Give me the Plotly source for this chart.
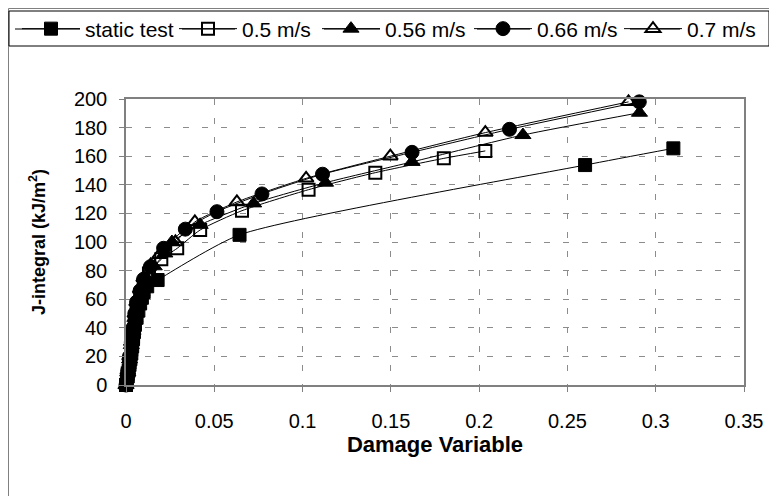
import plotly.graph_objects as go

# ---- data ----
static_x = [0, 0.0005, 0.001, 0.0015, 0.002, 0.0025, 0.003, 0.0035, 0.004, 0.0045, 0.005, 0.006, 0.007, 0.008, 0.009, 0.010, 0.012, 0.0179, 0.0643, 0.26, 0.31]
static_y = [0, 3, 6, 10, 14, 18, 22, 27, 32, 37, 42, 47, 52, 57, 61, 65, 69, 73.4, 105, 153.8, 165.5]

v05_x = [0, 0.001, 0.002, 0.003, 0.004, 0.005, 0.006, 0.008, 0.010, 0.013, 0.020, 0.029, 0.042, 0.0657, 0.1034, 0.1412, 0.180, 0.2035]
v05_y = [0, 8, 16, 25, 34, 43, 52, 62, 70, 78, 88, 95.6, 108.4, 121.9, 136.6, 148.5, 158.5, 163.7]

v056_x = [0, 0.001, 0.002, 0.003, 0.004, 0.005, 0.007, 0.009, 0.012, 0.016, 0.022, 0.026, 0.042, 0.0723, 0.113, 0.162, 0.2248, 0.2908]
v056_y = [0, 9, 18, 28, 38, 47, 56, 65, 74, 83, 92, 100, 112, 127, 141.5, 156, 174.8, 190.4]

v066_x = [0, 0.001, 0.002, 0.003, 0.004, 0.005, 0.006, 0.008, 0.010, 0.0138, 0.0213, 0.0336, 0.0515, 0.077, 0.1113, 0.162, 0.2172, 0.2907]
v066_y = [0, 10, 20, 30, 40, 50, 58, 66, 74, 82.7, 95.6, 109, 121.2, 133.6, 147.4, 162.7, 178.8, 198]

v07_x = [0, 0.001, 0.002, 0.003, 0.004, 0.005, 0.006, 0.008, 0.010, 0.014, 0.019, 0.028, 0.039, 0.0628, 0.102, 0.1497, 0.2035, 0.2846]
v07_y = [0, 10, 20, 30, 40, 50, 58, 67, 75, 84, 91, 100, 114, 128, 144.5, 160, 176.5, 198]

series_names = ["static test", "0.5 m/s", "0.56 m/s", "0.66 m/s", "0.7 m/s"]
x_ticks = [0, 0.05, 0.1, 0.15, 0.2, 0.25, 0.3, 0.35]
y_ticks = [0, 20, 40, 60, 80, 100, 120, 140, 160, 180, 200]

FONT = "Liberation Sans, Arial, sans-serif"
GRID = "#8c8c8c"

styles = [
    dict(symbol="square", size=13, color="black", line=dict(color="black", width=1)),
    dict(symbol="square-open", size=12, color="black", line=dict(color="black", width=2)),
    dict(symbol="triangle-up", size=14, color="black", line=dict(color="black", width=1)),
    dict(symbol="circle", size=14, color="black", line=dict(color="black", width=1)),
    dict(symbol="triangle-up-open", size=13, color="black", line=dict(color="black", width=2)),
]

data = [(static_x, static_y), (v05_x, v05_y), (v056_x, v056_y), (v066_x, v066_y), (v07_x, v07_y)]
legend_ids = ["legend", "legend2", "legend3", "legend4", "legend5"]

# page is offset by the default 8px body margin -> figure coords = screen - 8
OFF = 8
W, H = 777 - OFF, 496 - OFF
L, T = 126 - OFF, 99 - OFF
R = W - (744 - OFF)
B = H - (385 - OFF)
pw, ph = W - L - R, H - T - B

def px_x(p):
    return (p - OFF - L) / pw

def px_y(p):
    return (H - B - (p - OFF)) / ph

fig = go.Figure()
for (xs, ys), name, st, lid in zip(data, series_names, styles, legend_ids):
    fig.add_trace(go.Scatter(
        x=xs, y=ys, name=name, mode="lines+markers", legend=lid, cliponaxis=False,
        line=dict(color="black", width=1, shape="spline", smoothing=0.6),
        marker=st,
    ))

# legend layout in the reference (screen px)
leg_text_px = [85, 242, 385, 537, 687]
leg_line_px = [(15, 80), (182, 235), (324, 380), (477, 530), (630, 680)]
LEG_Y = 29
ITEMW = 58

shapes = [
    dict(type="rect", xref="paper", yref="paper",
         x0=px_x(OFF + 0.5), x1=px_x(772), y0=px_y(500), y1=px_y(OFF + 0.5),
         line=dict(color="#808080", width=1), fillcolor="rgba(0,0,0,0)", layer="below"),
    dict(type="rect", xref="paper", yref="paper",
         x0=px_x(OFF + 1), x1=px_x(769), y0=px_y(46), y1=px_y(11),
         line=dict(color="black", width=1), fillcolor="rgba(0,0,0,0)"),
]
for a, b in leg_line_px:
    shapes.append(dict(type="line", xref="paper", yref="paper",
                       x0=px_x(a), x1=px_x(b), y0=px_y(LEG_Y), y1=px_y(LEG_Y),
                       line=dict(color="black", width=1)))

layout_legends = {}
for lid, tx in zip(legend_ids, leg_text_px):
    layout_legends[lid] = dict(
        orientation="h", x=px_x(tx - ITEMW - 10), xanchor="left", y=px_y(LEG_Y), yanchor="middle",
        bgcolor="rgba(0,0,0,0)", borderwidth=0, font=dict(size=21, family=FONT, color="black"),
        itemwidth=ITEMW,
    )

fig.update_layout(
    width=W, height=H,
    margin=dict(l=L, r=R, t=T, b=B, autoexpand=False),
    paper_bgcolor="white", plot_bgcolor="white",
    font=dict(family=FONT, size=20, color="black"),
    showlegend=True,
    shapes=shapes,
    xaxis=dict(range=[0, 0.35], tickvals=x_ticks, ticktext=[f"{v:g}" for v in x_ticks],
               showline=True, linecolor="#808080", linewidth=1.5, mirror=True,
               ticks="outside", ticklen=5, tickcolor="#808080",
               showgrid=True, gridcolor=GRID, griddash="6px,13px", gridwidth=1,
               zeroline=False, ticklabelstandoff=12,
               title=dict(text="<b>Damage Variable</b>", standoff=3, font=dict(size=22))),
    yaxis=dict(range=[0, 200], tickvals=y_ticks,
               showline=True, linecolor="#808080", linewidth=1.5, mirror=True,
               ticks="outside", ticklen=5, tickcolor="#808080",
               showgrid=True, gridcolor=GRID, griddash="6px,13px", gridwidth=1,
               zeroline=False, ticklabelstandoff=8,
               title=dict(text="<b>J-integral (kJ/m<sup>2</sup>)</b>", standoff=24, font=dict(size=18))),
    **layout_legends,
)

fig.write_html("out.html")
